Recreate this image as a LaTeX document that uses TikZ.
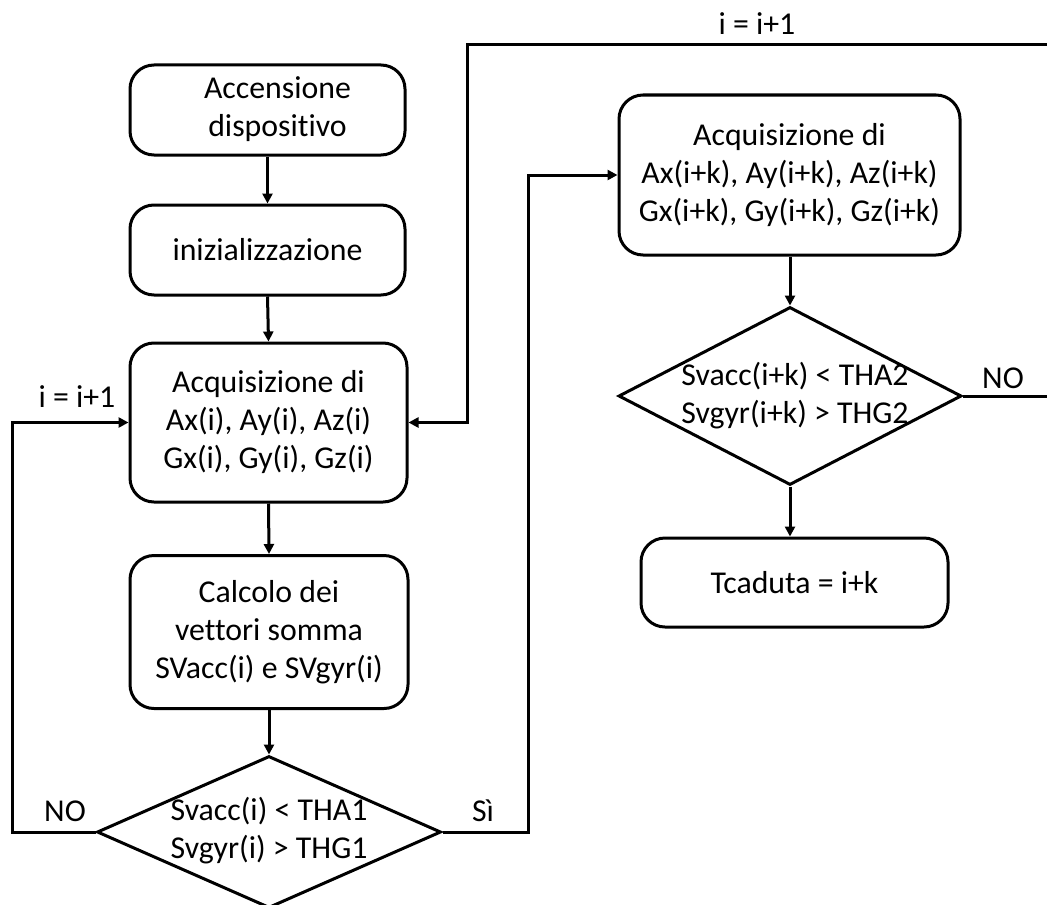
\documentclass[tikz,border=0pt]{standalone}
\usepackage{fontspec}
\setmainfont{Carlito}[Ligatures=NoCommon]
\usetikzlibrary{arrows.meta,shapes.geometric}
\begin{document}
\begin{tikzpicture}[x=0.5pt,y=-0.5pt,
  every node/.style={font=\fontsize{15.9pt}{19pt}\selectfont, align=center},
  proc/.style={draw, line width=1.5pt, rounded corners=12pt, inner sep=0pt},
  dec/.style={draw, line width=1.5pt, diamond, inner sep=0pt},
  conn/.style={line width=1.5pt},
  arr/.style={line width=1.5pt, -{Triangle[length=5pt,width=5pt]}},
  lbl/.style={inner sep=0pt}]
\useasboundingbox (0,0) rectangle (1047,904);

% boxes
\node[proc, minimum width=137.5pt, minimum height=45pt] (b1) at (267.5,110) {\hspace*{10pt}\begin{tabular}{@{}c@{}}Accensione\\dispositivo\end{tabular}};
\node[proc, minimum width=137.5pt, minimum height=45pt] (b2) at (267.5,250) {inizializzazione};
\node[proc, minimum width=138.5pt, minimum height=79.5pt] (b3) at (268.5,422.5) {Acquisizione di\\Ax(i), Ay(i), Az(i)\\Gx(i), Gy(i), Gz(i)};
\node[proc, minimum width=139pt, minimum height=76.5pt] (b4) at (269,632) {Calcolo dei\\vettori somma\\SVacc(i) e SVgyr(i)};
\node[dec, minimum width=172pt, minimum height=76pt] (d1) at (269,832) {};
\node[lbl] (t1) at (269,831) {Svacc(i) < THA1\\Svgyr(i) > THG1};

\node[proc, minimum width=170.5pt, minimum height=80pt] (b5) at (789.5,175) {Acquisizione di\\Ax(i+k), Ay(i+k), Az(i+k)\\Gx(i+k), Gy(i+k), Gz(i+k)};
\node[dec, minimum width=171.5pt, minimum height=89pt] (d2) at (790,396) {};
\node[lbl] (t2) at (795,396) {Svacc(i+k) < THA2\\Svgyr(i+k) > THG2};
\node[proc, minimum width=153.5pt, minimum height=44.5pt] (b6) at (794.5,582.5) {Tcaduta = i+k};

% labels
\node[lbl] (l1) at (757,24) {i = i+1};
\node[lbl] (l2) at (77,397) {i = i+1};
\node[lbl] (l3) at (65,811) {NO};
\node[lbl] (l4) at (483,811) {Sì};
\node[lbl] (l5) at (1003,378) {NO};

% coordinates
\coordinate (lx) at (12,832);
\coordinate (sx) at (528,832);
\coordinate (tr) at (1047,45);
\coordinate (tl) at (467,45);
\coordinate (nr) at (1047,396);

% connectors
\draw[arr] (b1.south) -- (b2.north);
\draw[arr] (b2.south) -- (b3.north);
\draw[arr] (b3.south) -- (b4.north);
\draw[arr] (b4.south) -- (d1.north);
\draw[arr] (d1.west) -- (lx) |- (b3.west);
\draw[arr] (d1.east) -- (sx) |- (b5.west);
\draw[arr] (d2.north |- b5.south) -- (d2.north);
\draw[arr] (d2.south) -- (d2.south |- b6.north);
\draw[conn] (d2.east) -- (nr);
\draw[arr] (tr) -- (tl) |- (b3.east);
\end{tikzpicture}
\end{document}
